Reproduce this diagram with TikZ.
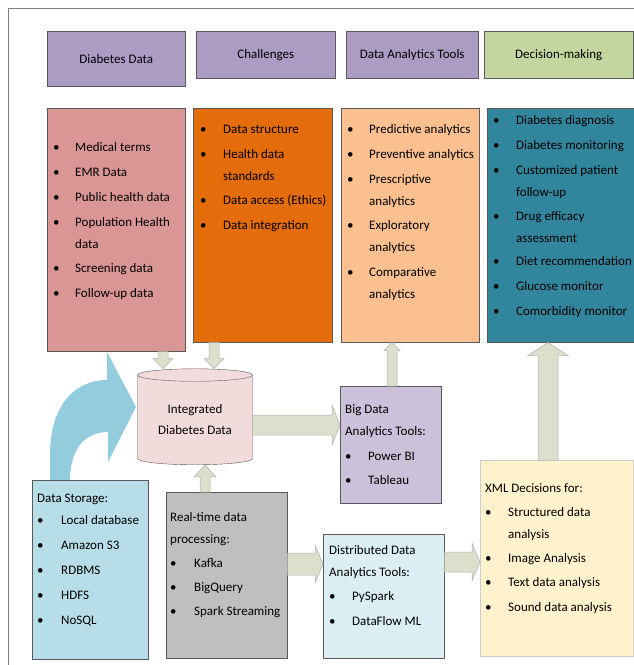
\documentclass[tikz,border=0pt]{standalone}
\usepackage{fontspec}
\setmainfont{Carlito}
\usetikzlibrary{shapes.geometric,positioning,calc}

\definecolor{headpurple}{RGB}{172,156,196}
\definecolor{headgreen}{RGB}{196,214,160}
\definecolor{pinkfill}{RGB}{217,150,148}
\definecolor{orangefill}{RGB}{228,108,10}
\definecolor{peachfill}{RGB}{250,192,144}
\definecolor{tealfill}{RGB}{49,133,156}
\definecolor{cylfill}{RGB}{242,220,219}
\definecolor{flowfill}{RGB}{218,224,204}
\definecolor{curvefill}{RGB}{147,205,221}
\definecolor{storefill}{RGB}{183,222,232}
\definecolor{realfill}{RGB}{191,191,191}
\definecolor{bigfill}{RGB}{204,193,218}
\definecolor{distfill}{RGB}{219,238,244}
\definecolor{xmlfill}{RGB}{255,242,204}

\tikzset{
    box/.style={draw=gray!70!black, line width=0.5pt, anchor=north west, inner sep=0pt},
    head/.style={box, font=\fontsize{13}{15}\selectfont},
    listtext/.style={anchor=base west, inner sep=0pt, font=\fontsize{13}{22}\selectfont},
    flow/.style={draw=gray!60, fill=flowfill, line width=0.5pt}
}

\newcommand{\bitem}{\textbullet &}
\newcommand{\blockarrow}[5]{%
    \path #1 coordinate (ba) #2 coordinate (bt);
    \path ($(bt)!#5!(ba)$) coordinate (bh);
    \draw[flow] ($(ba)!#3!90:(bt)$) -- ($(bh)!#3!90:(bt)$) -- ($(bh)!#4!90:(bt)$) -- (bt)
        -- ($(bh)!#4!-90:(bt)$) -- ($(bh)!#3!-90:(bt)$) -- ($(ba)!#3!-90:(bt)$) -- cycle;
}

\begin{document}
\begin{tikzpicture}[x=1pt, y=-1pt]
    \useasboundingbox (0,0) rectangle (634,665);

    % Frame
    \draw[gray] (634,8) -- (8,8) -- (8,665);

    % Headers
    \node[head, fill=headpurple, minimum width=138pt, minimum height=55pt] (hdata) at (47,31) {Diabetes Data};
    \node[head, fill=headpurple, minimum width=139pt, minimum height=47pt] (hchal) at (196,31) {Challenges};
    \node[head, fill=headpurple, minimum width=132pt, minimum height=47pt] (htools) at (346,31) {Data Analytics Tools};
    \node[head, fill=headgreen, minimum width=149pt, minimum height=47pt] (hdec) at (484,31) {Decision-making};

    % Curved storage arrow
    \fill[curvefill] (50,480) -- (50,455) .. controls (50,405) and (75,380) .. (107,380) -- (107,352)
        -- (136,407) -- (108,462) -- (108,432) .. controls (86,432) and (70,448) .. (70,480) -- cycle;

    % Upper boxes
    \node[box, fill=pinkfill, minimum width=138pt, minimum height=243pt] (databox) at (47,108) {};
    \node[box, fill=orangefill, minimum width=139pt, minimum height=234pt] (chalbox) at (193,108) {};
    \node[box, fill=peachfill, minimum width=138pt, minimum height=234pt] (toolbox) at (341,108) {};
    \node[box, fill=tealfill, minimum width=147pt, minimum height=234pt] (decbox) at (487,108) {};

    \node[listtext] (datalist) at (53,151) {\begin{tabular}[t]{@{}p{22pt}@{}l@{}}
        \bitem Medical terms\\[3pt]
        \bitem EMR Data\\[3pt]
        \bitem Public health data\\[3pt]
        \bitem Population Health\\
        & data\\[2pt]
        \bitem Screening data\\[3pt]
        \bitem Follow-up data
    \end{tabular}};
    \node[listtext] (challist) at (200,133) {\begin{tabular}[t]{@{}p{23pt}@{}l@{}}
        \bitem Data structure\\[3pt]
        \bitem Health data\\
        & standards\\[2pt]
        \bitem Data access (Ethics)\\[3pt]
        \bitem Data integration
    \end{tabular}};
    \node[listtext] (toollist) at (347,133) {\begin{tabular}[t]{@{}p{22pt}@{}l@{}}
        \bitem Predictive analytics\\[3pt]
        \bitem Preventive analytics\\[3pt]
        \bitem Prescriptive\\
        & analytics\\[2pt]
        \bitem Exploratory\\
        & analytics\\[3pt]
        \bitem Comparative\\
        & analytics
    \end{tabular}};
    \node[listtext] (declist) at (493,124) {\begin{tabular}[t]{@{}p{23pt}@{}l@{}}
        \bitem Diabetes diagnosis\\[3pt]
        \bitem Diabetes monitoring\\[3pt]
        \bitem Customized patient\\
        & follow-up\\[2pt]
        \bitem Drug efficacy\\
        & assessment\\[1pt]
        \bitem Diet recommendation\\[3pt]
        \bitem Glucose monitor\\[3pt]
        \bitem Comorbidity monitor
    \end{tabular}};

    % Integrated data store
    \node[cylinder, shape border rotate=90, aspect=0.17, draw=gray!70!black, fill=cylfill,
        minimum width=115pt, minimum height=96pt, inner sep=0pt, align=center,
        font=\fontsize{13}{21}\selectfont] (cyl) at (195,420) {Integrated\\Diabetes Data};

    % Lower boxes
    \node[box, fill=storefill, minimum width=116pt, minimum height=179pt] (storebox) at (32,480) {};
    \node[box, fill=realfill, minimum width=121pt, minimum height=166pt] (realbox) at (166,492) {};
    \node[box, fill=bigfill, minimum width=101pt, minimum height=117pt] (bigbox) at (340,386) {};
    \node[box, fill=distfill, minimum width=121pt, minimum height=124pt] (distbox) at (323,534) {};
    \node[box, fill=xmlfill, draw=gray!40, minimum width=153pt, minimum height=196pt] (xmlbox) at (480,460) {};

    \node[listtext] (storelist) at (37,502) {\begin{tabular}[t]{@{}p{24pt}@{}l@{}}
        \multicolumn{2}{@{}l@{}}{Data Storage:}\\
        \bitem Local database\\[3pt]
        \bitem Amazon S3\\[3pt]
        \bitem RDBMS\\[3pt]
        \bitem HDFS\\[3pt]
        \bitem NoSQL
    \end{tabular}};
    \node[listtext] (reallist) at (170,521) {\begin{tabular}[t]{@{}p{24pt}@{}l@{}}
        \multicolumn{2}{@{}l@{}}{Real-time data}\\
        \multicolumn{2}{@{}l@{}}{processing:}\\[2pt]
        \bitem Kafka\\[2pt]
        \bitem BigQuery\\[2pt]
        \bitem Spark Streaming
    \end{tabular}};
    \node[listtext] (biglist) at (345,413) {\begin{tabular}[t]{@{}p{23pt}@{}l@{}}
        \multicolumn{2}{@{}l@{}}{Big Data}\\
        \multicolumn{2}{@{}l@{}}{Analytics Tools:}\\[3pt]
        \bitem Power BI\\[2pt]
        \bitem Tableau
    \end{tabular}};
    \node[listtext] (distlist) at (329,554) {\begin{tabular}[t]{@{}p{23pt}@{}l@{}}
        \multicolumn{2}{@{}l@{}}{Distributed Data}\\
        \multicolumn{2}{@{}l@{}}{Analytics Tools:}\\[2pt]
        \bitem PySpark\\[3pt]
        \bitem DataFlow ML
    \end{tabular}};
    \node[listtext] (xmllist) at (485,492) {\begin{tabular}[t]{@{}p{23pt}@{}l@{}}
        \multicolumn{2}{@{}l@{}}{XML Decisions for:}\\[2pt]
        \bitem Structured data\\
        & analysis\\[2pt]
        \bitem Image Analysis\\[2pt]
        \bitem Text data analysis\\[3pt]
        \bitem Sound data analysis
    \end{tabular}};

    % Block arrows
    \blockarrow{(databox.south -| 163,0)}{(cyl.north -| 163,0)}{5pt}{10pt}{10pt}
    \blockarrow{(chalbox.south -| 214,0)}{(cyl.north -| 214,0)}{5pt}{10pt}{10pt}
    \blockarrow{(realbox.north -| 205,0)}{(cyl.south -| 205,0)}{5pt}{11pt}{12pt}
    \blockarrow{(cyl.east |- 0,425)}{(bigbox.west |- 0,425)}{10pt}{20pt}{8pt}
    \blockarrow{(bigbox.north -| 392,0)}{(toolbox.south -| 392,0)}{5pt}{8pt}{8pt}
    \blockarrow{(realbox.east |- 0,564)}{(distbox.west |- 0,564)}{11pt}{19pt}{8pt}
    \blockarrow{(distbox.east |- 0,562)}{(xmlbox.west |- 0,562)}{10pt}{19pt}{8pt}
    \blockarrow{(xmlbox.north -| 548,0)}{(decbox.south -| 548,0)}{10pt}{20pt}{13pt}
\end{tikzpicture}
\end{document}
